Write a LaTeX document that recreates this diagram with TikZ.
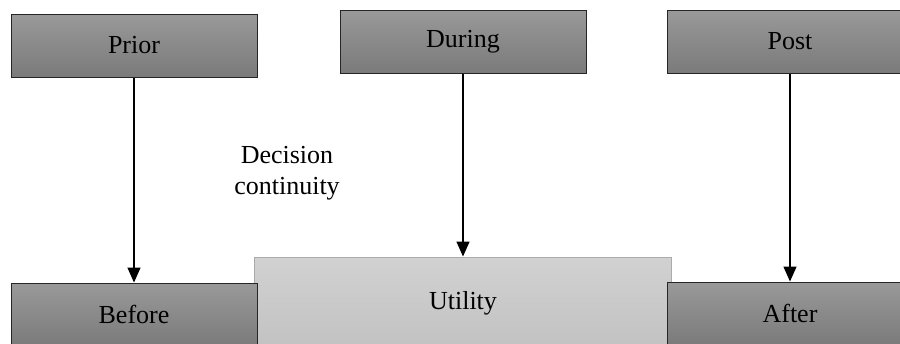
\documentclass[tikz,border=0pt]{standalone}
\usepackage{fontspec}
\setmainfont{Liberation Serif}
\usetikzlibrary{arrows.meta}

\begin{document}
\begin{tikzpicture}[x=1pt,y=-1pt,->,>={Triangle[length=15pt,width=13pt]}]
  \def\w{246}
  \def\h{63}

\tikzstyle{phase}=[rectangle,draw=black!85,line width=1pt,top color=black!40,bottom color=black!52,minimum width=\w pt,minimum height=\h pt,inner sep=0pt,font=\fontsize{26}{31}\selectfont]
\tikzstyle{link}=[line width=1.5pt]
\useasboundingbox (0,0) rectangle (900,343);
\clip (0,0) rectangle (900,343);
% top row
\node[phase] (Prior) at (134,45.5) {Prior};
\node[phase] (During) at (463,41.5) {During};
\node[phase] (Post) at (790,41.5) {Post};
% bottom row
\node[phase][draw=black!33,top color=black!18,bottom color=black!24,minimum width=417pt,minimum height=92pt] (Utility) at (463,303) {Utility};
\node[phase] (Before) at (134,314.5) {Before};
\node[phase] (After) at (790,313.5) {After};
\node[font=\fontsize{26}{31}\selectfont,align=center] (Dec) at (287,173) {Decision\\continuity};
\draw[link] (Prior) -- (Before);
\draw[link] (During) -- (Utility);
\draw[link] (Post) -- (After);
\end{tikzpicture}
\end{document}
